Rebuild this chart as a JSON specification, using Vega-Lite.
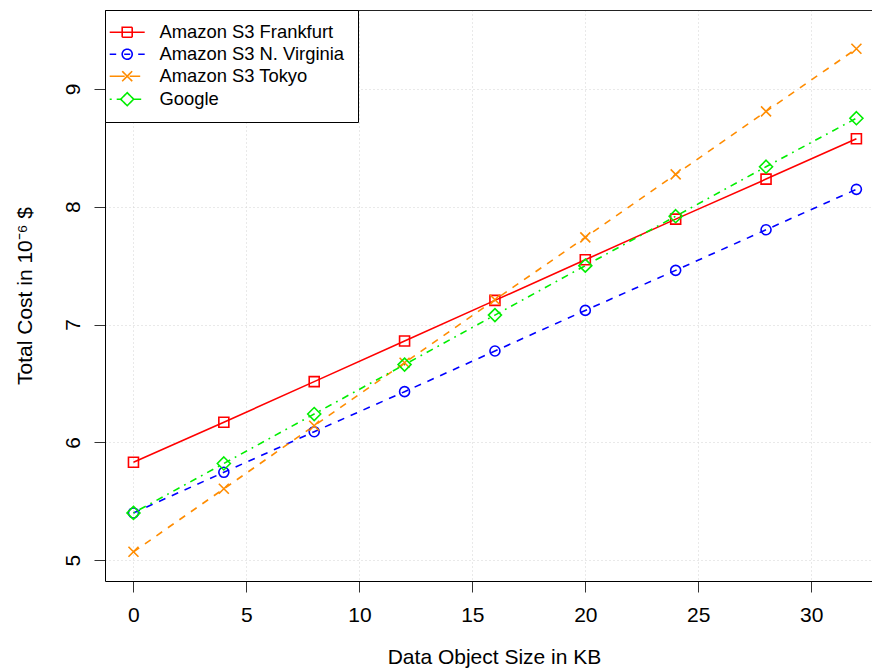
{
  "$schema": "https://vega.github.io/schema/vega-lite/v6.json",
  "width": 767,
  "height": 571,
  "autosize": {"type": "none"},
  "padding": {"left": 105, "top": 10, "right": 0, "bottom": 89},
  "background": "white",
  "config": {
    "font": "Liberation Sans",
    "view": {"stroke": null},
    "axis": {
      "grid": true,
      "gridColor": "#D3D3D3",
      "gridDash": [1, 3],
      "gridWidth": 1,
      "tickSize": 11,
      "tickColor": "#333333",
      "tickWidth": 1,
      "domainColor": "#000000",
      "domainWidth": 1,
      "labelFontSize": 21,
      "labelColor": "#000000",
      "titleFontSize": 21,
      "titleFontWeight": "normal",
      "titleColor": "#000000"
    }
  },
  "data": {
    "values": [
      {"series": "Amazon S3 Frankfurt", "size": 0, "cost": 5.83},
      {"series": "Amazon S3 Frankfurt", "size": 4, "cost": 6.17},
      {"series": "Amazon S3 Frankfurt", "size": 8, "cost": 6.515},
      {"series": "Amazon S3 Frankfurt", "size": 12, "cost": 6.86},
      {"series": "Amazon S3 Frankfurt", "size": 16, "cost": 7.205},
      {"series": "Amazon S3 Frankfurt", "size": 20, "cost": 7.55},
      {"series": "Amazon S3 Frankfurt", "size": 24, "cost": 7.895},
      {"series": "Amazon S3 Frankfurt", "size": 28, "cost": 8.235},
      {"series": "Amazon S3 Frankfurt", "size": 32, "cost": 8.578},
      {"series": "Amazon S3 N. Virginia", "size": 0, "cost": 5.4},
      {"series": "Amazon S3 N. Virginia", "size": 4, "cost": 5.745},
      {"series": "Amazon S3 N. Virginia", "size": 8, "cost": 6.09},
      {"series": "Amazon S3 N. Virginia", "size": 12, "cost": 6.43},
      {"series": "Amazon S3 N. Virginia", "size": 16, "cost": 6.775},
      {"series": "Amazon S3 N. Virginia", "size": 20, "cost": 7.12},
      {"series": "Amazon S3 N. Virginia", "size": 24, "cost": 7.46},
      {"series": "Amazon S3 N. Virginia", "size": 28, "cost": 7.805},
      {"series": "Amazon S3 N. Virginia", "size": 32, "cost": 8.148},
      {"series": "Amazon S3 Tokyo", "size": 0, "cost": 5.07},
      {"series": "Amazon S3 Tokyo", "size": 4, "cost": 5.605},
      {"series": "Amazon S3 Tokyo", "size": 8, "cost": 6.14},
      {"series": "Amazon S3 Tokyo", "size": 12, "cost": 6.675},
      {"series": "Amazon S3 Tokyo", "size": 16, "cost": 7.21},
      {"series": "Amazon S3 Tokyo", "size": 20, "cost": 7.74},
      {"series": "Amazon S3 Tokyo", "size": 24, "cost": 8.275},
      {"series": "Amazon S3 Tokyo", "size": 28, "cost": 8.81},
      {"series": "Amazon S3 Tokyo", "size": 32, "cost": 9.342},
      {"series": "Google", "size": 0, "cost": 5.4},
      {"series": "Google", "size": 4, "cost": 5.82},
      {"series": "Google", "size": 8, "cost": 6.24},
      {"series": "Google", "size": 12, "cost": 6.66},
      {"series": "Google", "size": 16, "cost": 7.08},
      {"series": "Google", "size": 20, "cost": 7.5},
      {"series": "Google", "size": 24, "cost": 7.92},
      {"series": "Google", "size": 28, "cost": 8.34},
      {"series": "Google", "size": 32, "cost": 8.752}
    ]
  },
  "encoding": {
    "x": {
      "field": "size",
      "type": "quantitative",
      "scale": {"domain": [-1.26, 32.69], "nice": false, "zero": false},
      "axis": {
        "values": [0, 5, 10, 15, 20, 25, 30],
        "labelPadding": 12,
        "title": "Data Object Size in KB",
        "titleX": 389,
        "titleY": 82,
        "titleBaseline": "alphabetic",
        "titleAlign": "center"
      }
    },
    "y": {
      "field": "cost",
      "type": "quantitative",
      "scale": {"domain": [4.822, 9.671], "nice": false, "zero": false},
      "axis": {
        "values": [5, 6, 7, 8, 9],
        "format": "d",
        "labelAngle": -90,
        "labelAlign": "center",
        "labelBaseline": "alphabetic",
        "labelPadding": 15,
        "title": "Total Cost in 10⁻⁶ $",
        "titleAngle": -90,
        "titleX": -74,
        "titleY": 285.5,
        "titleAlign": "center",
        "titleBaseline": "alphabetic"
      }
    },
    "color": {
      "field": "series",
      "type": "nominal",
      "scale": {
        "domain": ["Amazon S3 Frankfurt", "Amazon S3 N. Virginia", "Amazon S3 Tokyo", "Google"],
        "range": ["#FF0000", "#0000FF", "#FF8C00", "#00EE00"]
      },
      "legend": {
        "orient": "top-left",
        "offset": 0,
        "title": null,
        "padding": 13,
        "strokeColor": "#000000",
        "fillColor": "#FFFFFF",
        "cornerRadius": 0,
        "labelFontSize": 18.4,
        "labelColor": "#000000",
        "labelLimit": 0,
        "labelOffset": 23,
        "symbolSize": 100,
        "symbolStrokeWidth": 1.6,
        "rowPadding": 3,
        "encode": {
          "symbols": {
            "update": {
              "shape": {"signal": "datum.value === 'Amazon S3 Frankfurt' ? 'M-3.5,0H3.5M-1,-1H1V1H-1Z' : datum.value === 'Amazon S3 N. Virginia' ? 'M-3.5,0H-2.2M-0.6,0H0.6M2.2,0H3.5M1,0A1,1,0,1,1,-1,0A1,1,0,1,1,1,0Z' : datum.value === 'Amazon S3 Tokyo' ? 'M-3.5,0H-0.5M0.5,0H2.6M-1,-1L1,1M-1,1L1,-1' : 'M-3.5,0H-3.1M-2.1,0H-1.3M1.3,0H2.8M0,-1.3L1.3,0L0,1.3L-1.3,0Z'"},
              "fill": {"value": "transparent"},
              "strokeDash": {"value": [1, 0]},
              "strokeWidth": {"value": 1.6},
              "opacity": {"value": 1}
            }
          }
        }
      }
    }
  },
  "resolve": {"axis": {"x": "independent"}},
  "layer": [
    {
      "layer": [
        {
          "transform": [{"filter": "datum.series === 'Amazon S3 Frankfurt'"}],
          "mark": {"type": "line", "strokeWidth": 1.6}
        },
        {
          "transform": [{"filter": "datum.series === 'Amazon S3 N. Virginia'"}],
          "mark": {"type": "line", "strokeWidth": 1.6, "strokeDash": [7, 7]}
        },
        {
          "transform": [{"filter": "datum.series === 'Amazon S3 Tokyo'"}],
          "mark": {"type": "line", "strokeWidth": 1.6, "strokeDash": [7, 7]}
        },
        {
          "transform": [{"filter": "datum.series === 'Google'"}],
          "mark": {"type": "line", "strokeWidth": 1.6, "strokeDash": [1.75, 5.25, 7, 5.25]}
        },
        {
          "transform": [{"filter": "datum.series === 'Amazon S3 Frankfurt'"}],
          "mark": {"type": "point", "filled": false, "size": 100, "strokeWidth": 1.6, "opacity": 1, "shape": "M-1,-1H1V1H-1Z"}
        },
        {
          "transform": [{"filter": "datum.series === 'Amazon S3 N. Virginia'"}],
          "mark": {"type": "point", "filled": false, "size": 100, "strokeWidth": 1.6, "opacity": 1, "shape": "circle"}
        },
        {
          "transform": [{"filter": "datum.series === 'Amazon S3 Tokyo'"}],
          "mark": {"type": "point", "filled": false, "size": 100, "strokeWidth": 1.6, "opacity": 1, "shape": "M-1,-1L1,1M-1,1L1,-1"}
        }
      ]
    },
    {
      "transform": [{"filter": "datum.series === 'Google'"}],
      "mark": {"type": "point", "filled": false, "size": 100, "strokeWidth": 1.6, "opacity": 1, "shape": "M0,-1.3L1.3,0L0,1.3L-1.3,0Z"},
      "encoding": {
        "x": {
          "field": "size",
          "type": "quantitative",
          "scale": {"domain": [-1.26, 32.69], "nice": false, "zero": false},
          "axis": {
            "orient": "top",
            "labels": false,
            "ticks": false,
            "grid": false,
            "domain": true,
            "domainColor": "#222222",
            "title": null
          }
        }
      }
    }
  ]
}
